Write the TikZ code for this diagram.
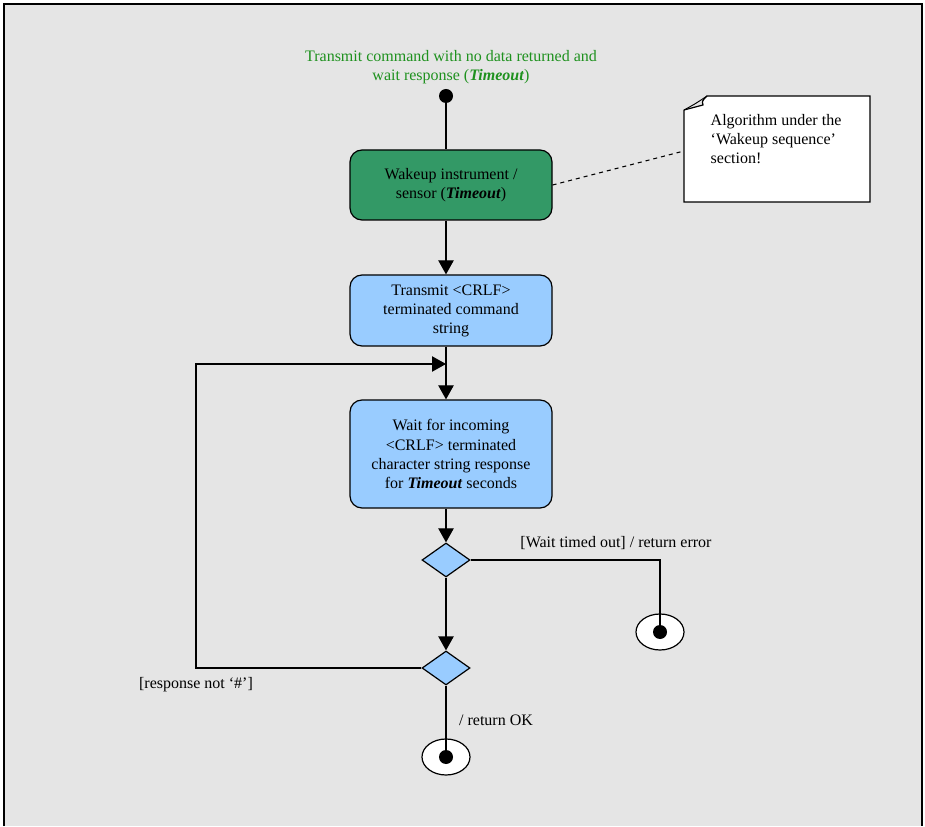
\documentclass[tikz,border=0pt]{standalone}
\usepackage{fontspec}
\setmainfont{Liberation Serif}
\usetikzlibrary{shapes.geometric, arrows.meta, positioning}
\definecolor{marble}{RGB}{229,229,229}
\definecolor{wakegreen}{RGB}{51,153,102}
\definecolor{actblue}{RGB}{153,204,255}
\definecolor{titlegreen}{RGB}{30,145,30}

\tikzset{
  txt/.style={font=\fontsize{12}{14.3}\selectfont},
  activity/.style={txt, draw, line width=0.9pt, rounded corners=9pt,
    minimum width=151.5pt, align=center, inner sep=2pt},
  choice/.style={draw, line width=0.9pt, shape=diamond, fill=actblue,
    minimum width=36pt, minimum height=25.5pt, inner sep=0pt},
  finalbox/.style={draw, line width=0.9pt, shape=ellipse, fill=white,
    minimum width=36pt, minimum height=27pt, inner sep=0pt},
  dot/.style={circle, fill=black, minimum size=10.5pt, inner sep=0pt},
  flow/.style={line width=0.9pt, -{Triangle[width=11.5pt,length=10.5pt]}},
  plain/.style={line width=0.9pt},
}

\begin{document}
\begin{tikzpicture}[x=0.75pt, y=-0.75pt]
    % frame and background
    \fill[marble] (4,4) rectangle (922,826);
    \draw[line width=1pt] (4,826) -- (4,4) -- (922,4) -- (922,826);
    \useasboundingbox (0,0) rectangle (925,825);

    \node[txt, text=titlegreen, align=center] (title) at (451,67)
        {Transmit command with no data returned and\\wait response (\textbf{\textit{Timeout}})};
    \node[dot] (start) at (446,96) {};

    \node[activity, fill=wakegreen, minimum height=52.5pt] (wake) at (451,185)
        {Wakeup instrument /\\sensor (\textbf{\textit{Timeout}})};
    \node[activity, fill=actblue, minimum height=53.25pt] (tx) at (451,310.5)
        {Transmit <CRLF>\\terminated command\\string};
    \node[activity, fill=actblue, minimum height=81pt] (wait) at (451,454)
        {Wait for incoming\\<CRLF> terminated\\character string response\\for \textbf{\textit{Timeout}} seconds};

    \node[choice] (timeout) at (446,560) {};
    \node[choice] (retry) at (446,668) {};

    \node[finalbox] (enderr) at (660,632) {};
    \node[dot] (errdot) at (660,632) {};
    \node[finalbox] (endok) at (446,757) {};
    \node[dot] (okdot) at (446,757) {};

    % note
    \draw[line width=0.9pt, fill=white] (684,110) -- (684,202) -- (870,202)
        -- (870,96) -- (707,96) .. controls (702,101) .. (703,105) -- (684,110);
    \draw[line width=0.7pt] (684,110) .. controls (695,104) .. (707,96);
    \node[txt, anchor=north west, align=left] (note) at (706,110)
        {Algorithm under the\\`Wakeup sequence'\\section!};
    \coordinate (notein) at (684,151);
    \draw[dashed, line width=0.8pt] (wake.east) -- (notein);

    \path[plain] (start) edge (start |- wake.north);
    \path[flow]
    (wake.south -| start) edge (tx.north -| start)
    (tx.south -| start) edge (wait.north -| start)
    (wait.south -| timeout) edge (timeout)
    (timeout) edge (retry)
    ;

    \draw[plain] (timeout.east) -| (errdot);
    \node[txt] (errlbl) at (616,543) {[Wait timed out] / return error};

    \coordinate (loopcorner) at (196,364);
    \draw[flow] (retry.west) -| (loopcorner) -- (loopcorner -| retry);
    \node[txt] (retrylbl) at (196,685) {[response not `\#']};

    \draw[plain] (retry.south) -- (okdot);
    \node[txt] (oklbl) at (496,720) {/ return OK};
\end{tikzpicture}
\end{document}
